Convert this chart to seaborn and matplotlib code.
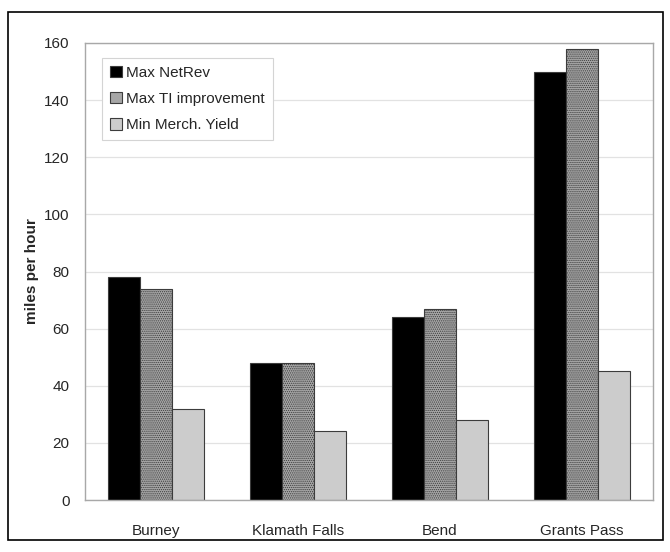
import matplotlib
matplotlib.use("Agg")
import matplotlib.pyplot as plt
from matplotlib.patches import Rectangle
import seaborn as sns
import pandas as pd

# Sites and scenario values (miles per hour)
sites = ["Burney", "Klamath Falls", "Bend", "Grants Pass"]
scenarios = ["Max NetRev", "Max TI improvement", "Min Merch. Yield"]
max_netrev = [78, 48, 64, 150]
max_ti_improvement = [74, 48, 67, 158]
min_merch_yield = [32, 24, 28, 45]
y_ticks = [0, 20, 40, 60, 80, 100, 120, 140, 160]

df = pd.DataFrame({
    "site": sites * 3,
    "scenario": [scenarios[0]] * 4 + [scenarios[1]] * 4 + [scenarios[2]] * 4,
    "mph": max_netrev + max_ti_improvement + min_merch_yield,
})

sns.set_style("white")
plt.rcParams["font.family"] = ["Liberation Sans", "DejaVu Sans"]
plt.rcParams["hatch.color"] = "#8a8a8a"
plt.rcParams["hatch.linewidth"] = 0.6

fig = plt.figure(figsize=(6.7, 5.52), dpi=100)
ax = fig.add_axes([85 / 670, 1 - 500 / 552, 568 / 670, 457 / 552])

palette = ["#000000", "#a6a6a6", "#cccccc"]
sns.barplot(data=df, x="site", y="mph", hue="scenario", order=sites,
            hue_order=scenarios, palette=palette, width=0.675, gap=0,
            edgecolor="#3c3c3c", linewidth=0.8, saturation=1, ax=ax)

# Fine stipple on the middle series
for patch in ax.containers[1]:
    patch.set_hatch("........")

ax.set_ylim(0, 160)
ax.set_xlim(-0.5, 3.5)
ax.set_yticks(y_ticks)
ax.set_yticklabels([str(v) for v in y_ticks], fontsize=11)
ax.yaxis.grid(True, color="#e2e2e2", linewidth=0.9)
ax.set_axisbelow(True)

ax.set_xticks(range(len(sites)))
ax.set_xticklabels(sites, fontsize=11)
ax.set_xticks([-0.5, 0.5, 1.5, 2.5, 3.5], minor=True)
ax.tick_params(axis="x", which="major", length=0, pad=17)
ax.tick_params(axis="x", which="minor", length=4, color="#c8c8c8", width=0.8)
ax.tick_params(axis="y", length=5, color="#a0a0a0", width=0.8, pad=6)

for side in ["left", "bottom", "top", "right"]:
    ax.spines[side].set_visible(True)
    ax.spines[side].set_color("#a8a8a8")
    ax.spines[side].set_linewidth(1.0)

ax.set_xlabel("")
ax.set_ylabel("miles per hour", fontsize=11, fontweight="bold", labelpad=4)

leg = ax.legend(loc="upper left", bbox_to_anchor=(0.03, 0.967), fontsize=11,
                frameon=True, fancybox=False, framealpha=1, edgecolor="#d4d4d4",
                handlelength=0.8, handleheight=0.8, handletextpad=0.3,
                labelspacing=0.78, borderpad=0.5, borderaxespad=0.0, title=None)
leg.get_frame().set_linewidth(0.8)

# Outer chart border
fig.patches.append(Rectangle((8 / 670, 1 - 540 / 552), 655 / 670, 528 / 552,
                             transform=fig.transFigure, fill=False,
                             edgecolor="black", linewidth=1.2))

fig.savefig("out.png", dpi=100)
